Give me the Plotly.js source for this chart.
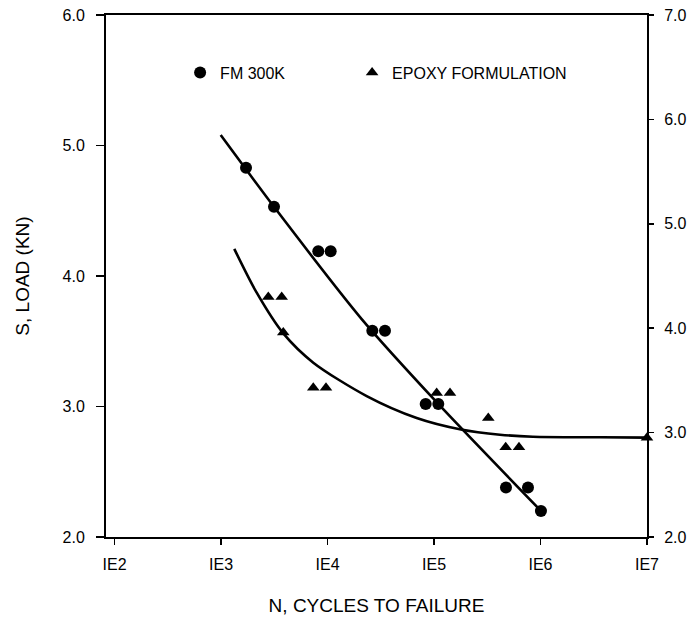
<!DOCTYPE html>
<html>
<head>
<meta charset="utf-8">
<script src="https://cdn.plot.ly/plotly-3.0.1.min.js"></script>
<style>
  html, body { margin: 0; padding: 0; background: #fff; }
  #chart { width: 688px; height: 621px; }
</style>
</head>
<body>
<div id="chart"></div>
<script>
// ---- Data ----
// FM 300K measured points (left axis, kN)
var fmCycles = [1717, 3145, 8190, 10710, 26340, 34650, 83530, 109700, 474100, 762800, 1010000];
var fmLoad   = [4.83, 4.53, 4.19, 4.19, 3.58, 3.58, 3.02, 3.02, 2.38, 2.38, 2.20];

// FM 300K fitted curve
var fmFitCycles = [993, 3145, 20940, 109700, 1010000];
var fmFitLoad   = [5.08, 4.53, 3.67, 3.02, 2.20];

// Epoxy formulation measured points (right axis, kN)
var epCycles = [2780, 3713, 3844, 7353, 9676, 105900, 141300, 323400, 471000, 628100, 10000000];
var epLoad   = [4.30, 4.30, 3.96, 3.43, 3.43, 3.38, 3.38, 3.14, 2.86, 2.86, 2.95];

// Epoxy formulation fitted curve
var epFitCycles = [1332, 2163, 3844, 7353, 23330, 68750, 179100, 416400, 849200, 3618000, 10000000];
var epFitLoad   = [4.76, 4.34, 3.95, 3.67, 3.35, 3.14, 3.03, 2.98, 2.96, 2.955, 2.952];

// Axis ticks
var xTickVals = [1e2, 1e3, 1e4, 1e5, 1e6, 1e7];
var xTickText = ['IE2', 'IE3', 'IE4', 'IE5', 'IE6', 'IE7'];
var yLeftTicks = [2, 3, 4, 5, 6];
var yRightTicks = [2, 3, 4, 5, 6, 7];

var FONT = 'Liberation Sans, Arial, Helvetica, sans-serif';

var traces = [
  {
    x: fmFitCycles, y: fmFitLoad, type: 'scatter', mode: 'lines',
    line: {color: '#000', width: 2.6, shape: 'spline', smoothing: 0.7},
    showlegend: false, hoverinfo: 'skip', yaxis: 'y'
  },
  {
    x: epFitCycles, y: epFitLoad, type: 'scatter', mode: 'lines',
    line: {color: '#000', width: 2.6, shape: 'spline', smoothing: 0.8},
    showlegend: false, hoverinfo: 'skip', yaxis: 'y2', cliponaxis: false
  },
  {
    x: fmCycles, y: fmLoad, type: 'scatter', mode: 'markers', name: 'FM 300K',
    marker: {symbol: 'circle', size: 12, color: '#000'},
    yaxis: 'y', cliponaxis: false, legendwidth: 127
  },
  {
    x: epCycles, y: epLoad, type: 'scatter', mode: 'markers', name: 'EPOXY FORMULATION',
    marker: {symbol: 'triangle-up', size: 11, color: '#000'},
    yaxis: 'y2', cliponaxis: false
  }
];

var layout = {
  width: 688, height: 621,
  margin: {l: 106, r: 40.5, t: 15, b: 83.5},
  paper_bgcolor: '#fff', plot_bgcolor: '#fff',
  font: {family: FONT, color: '#000', size: 16},
  showlegend: true,
  legend: {
    orientation: 'h', x: 0.137, y: 0.922, xanchor: 'left', yanchor: 'top',
    font: {family: FONT, size: 16, color: '#000'},
    bgcolor: 'rgba(0,0,0,0)'
  },
  xaxis: {
    type: 'log', range: [1.92, 7],
    tickvals: xTickVals, ticktext: xTickText,
    showline: true, linecolor: '#000', linewidth: 2, mirror: true,
    ticks: 'outside', ticklen: 6, tickwidth: 1.5, tickcolor: '#000',
    ticklabelstandoff: 6,
    showgrid: false, zeroline: false,
    tickfont: {family: FONT, size: 16, color: '#000'},
    title: {text: 'N, CYCLES TO FAILURE', font: {family: FONT, size: 19, color: '#000'}, standoff: 26}
  },
  yaxis: {
    range: [2, 6], tickvals: yLeftTicks, tickformat: '.1f',
    showline: true, linecolor: '#000', linewidth: 2,
    ticks: 'outside', ticklen: 8, tickwidth: 1.5, tickcolor: '#000',
    ticklabelstandoff: 8,
    showgrid: false, zeroline: false,
    tickfont: {family: FONT, size: 16, color: '#000'},
    title: {text: 'S, LOAD (KN)', font: {family: FONT, size: 19, color: '#000'}, standoff: 28}
  },
  yaxis2: {
    overlaying: 'y', side: 'right', range: [2, 7], tickvals: yRightTicks, tickformat: '.1f',
    showline: true, linecolor: '#000', linewidth: 2,
    ticks: 'outside', ticklen: 5, tickwidth: 1.5, tickcolor: '#000',
    ticklabelstandoff: 7,
    showgrid: false, zeroline: false,
    tickfont: {family: FONT, size: 16, color: '#000'}
  }
};

Plotly.newPlot('chart', traces, layout, {displayModeBar: false, staticPlot: true});
</script>
</body>
</html>
